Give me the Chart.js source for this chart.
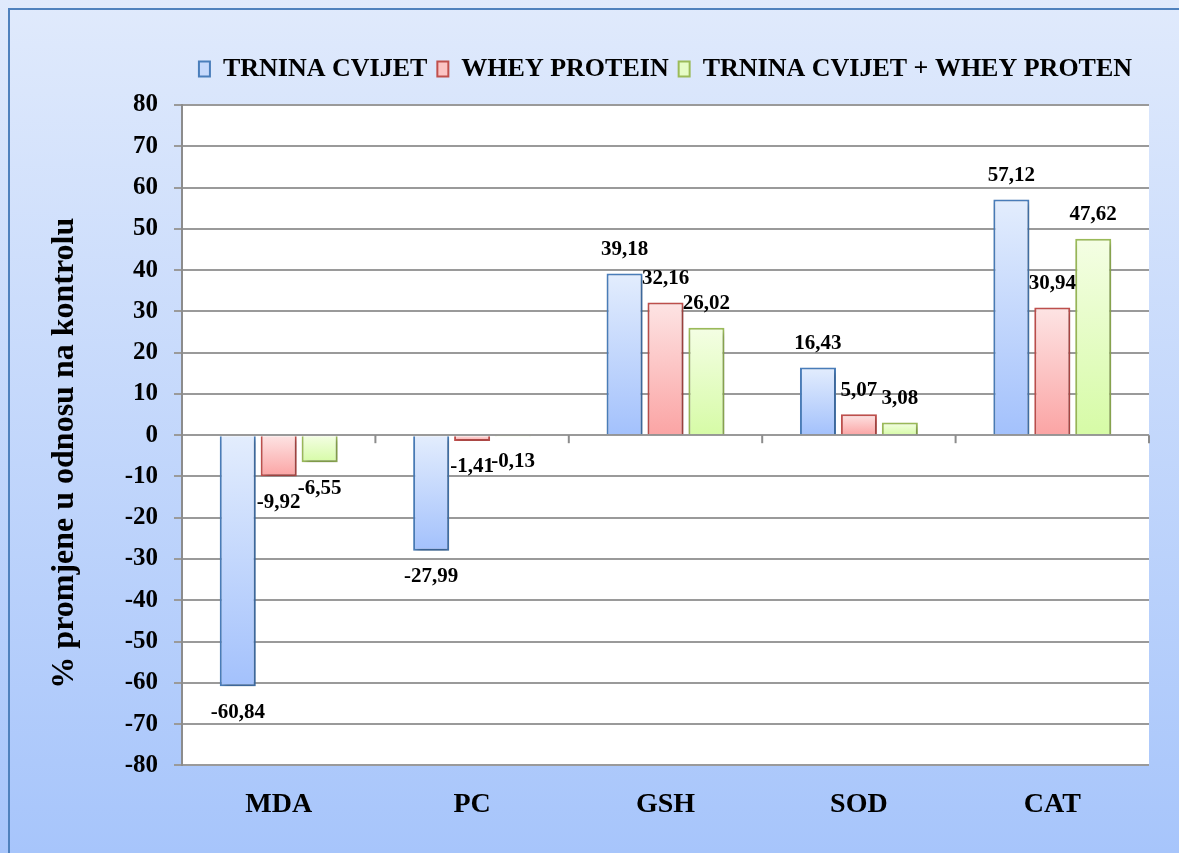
<!DOCTYPE html>
<html>
<head>
<meta charset="utf-8">
<script src="https://cdn.jsdelivr.net/npm/chart.js@4.4.1/dist/chart.umd.min.js"></script>
<style>
  html, body { margin: 0; padding: 0; background: #ffffff; }
  #wrap { width: 1179px; height: 853px; position: relative; }
</style>
</head>
<body>
<div id="wrap"><canvas id="chart"></canvas></div>
<script>
// categories and series
var categories = ['MDA', 'PC', 'GSH', 'SOD', 'CAT'];
var trninaCvijet = [-60.84, -27.99, 39.18, 16.43, 57.12];
var wheyProtein = [-9.92, -1.41, 32.16, 5.07, 30.94];
var trninaWhey = [-6.55, -0.13, 26.02, 3.08, 47.62];
var seriesNames = ['TRNINA CVIJET', 'WHEY PROTEIN', 'TRNINA CVIJET + WHEY PROTEN'];
var yTicks = [-80, -70, -60, -50, -40, -30, -20, -10, 0, 10, 20, 30, 40, 50, 60, 70, 80];
var yTitle = '% promjene u odnosu na kontrolu';

var FONT = "'Liberation Serif', 'Times New Roman', serif";

// per-bar vertical gradient (light at top, darker at bottom)
function barGradient(light, dark) {
    return function (ctx) {
        var chart = ctx.chart;
        var y = chart.scales.y;
        if (!y || ctx.raw === undefined) return dark;
        var p1 = y.getPixelForValue(ctx.raw);
        var p0 = y.getPixelForValue(0);
        var top = Math.min(p0, p1), bot = Math.max(p0, p1);
        if (bot - top < 1) bot = top + 1;
        var g = chart.ctx.createLinearGradient(0, top, 0, bot);
        g.addColorStop(0, light);
        g.addColorStop(1, dark);
        return g;
    };
}

var legendFill = ['#c6d9fc', '#fcc4c4', '#e6fcc6'];

// background, frame and white plot area
var backgroundPlugin = {
    id: 'bgPanel',
    beforeUpdate: function (chart) {
        // leave a gap between legend and plot
        var lg = chart.legend;
        if (lg && !lg._gapPatched) {
            var fit = lg.fit;
            lg.fit = function () {
                fit.call(this);
                this.height += 13;
            };
            lg._gapPatched = true;
        }
    },
    beforeDraw: function (chart) {
        var c = chart.ctx, a = chart.chartArea;
        c.save();
        var g = c.createLinearGradient(0, 0, 0, chart.height);
        g.addColorStop(0, '#e0eafc');
        g.addColorStop(1, '#a7c5fb');
        c.fillStyle = g;
        c.fillRect(0, 0, chart.width, chart.height);
        c.strokeStyle = '#4f81bd';
        c.lineWidth = 2;
        c.strokeRect(9, 9, chart.width + 20, chart.height + 20);
        c.fillStyle = '#ffffff';
        c.fillRect(a.left, a.top, a.right - a.left, a.bottom - a.top);
        c.restore();
    },
    afterDraw: function (chart) {
        var c = chart.ctx, a = chart.chartArea;
        c.save();
        c.translate(65, (a.top + a.bottom) / 2 + 18);
        c.rotate(-Math.PI / 2);
        c.fillStyle = '#000000';
        c.font = 'bold 32px ' + FONT;
        c.textAlign = 'center';
        c.textBaseline = 'middle';
        c.fillText(yTitle, 0, 0);
        c.restore();
    }
};

// soft shadow under the bars
var shadowPlugin = {
    id: 'barShadow',
    beforeDatasetsDraw: function (chart) {
        var c = chart.ctx;
        c.save();
        c.shadowColor = 'rgba(0,0,0,0.28)';
        c.shadowBlur = 5;
        c.shadowOffsetX = 2;
        c.shadowOffsetY = 3;
    },
    afterDatasetsDraw: function (chart) {
        chart.ctx.restore();
    }
};

// zero line tick marks between categories + value labels
var labelPlugin = {
    id: 'valueLabels',
    afterDatasetsDraw: function (chart) {
        var c = chart.ctx, xs = chart.scales.x, ys = chart.scales.y;
        var y0 = ys.getPixelForValue(0);
        c.save();
        c.strokeStyle = '#8c8c8c';
        c.lineWidth = 2;
        var n = categories.length;
        for (var i = 1; i <= n; i++) {
            var bx = i < n ? (xs.getPixelForValue(i - 1) + xs.getPixelForValue(i)) / 2 : chart.chartArea.right;
            c.beginPath();
            c.moveTo(bx, y0);
            c.lineTo(bx, y0 + 8);
            c.stroke();
        }
        c.fillStyle = '#000000';
        c.font = 'bold 21px ' + FONT;
        c.textAlign = 'center';
        c.textBaseline = 'middle';
        chart.data.datasets.forEach(function (ds, di) {
            var meta = chart.getDatasetMeta(di);
            meta.data.forEach(function (el, j) {
                var v = ds.data[j];
                var txt = v.toFixed(2).replace('.', ',');
                var ty = v >= 0 ? el.y - 24 : el.y + 26;
                c.fillText(txt, el.x, ty);
            });
        });
        c.restore();
    }
};

new Chart(document.getElementById('chart'), {
    type: 'bar',
    data: {
        labels: categories,
        datasets: [{
            label: seriesNames[0],
            data: trninaCvijet,
            backgroundColor: barGradient('#e3edfd', '#a3c1fc'),
            borderColor: '#4a7ebb',
            borderWidth: 2
        }, {
            label: seriesNames[1],
            data: wheyProtein,
            backgroundColor: barGradient('#fde4e4', '#fba4a4'),
            borderColor: '#c0504d',
            borderWidth: 2
        }, {
            label: seriesNames[2],
            data: trninaWhey,
            backgroundColor: barGradient('#f4fee4', '#d6fba6'),
            borderColor: '#9bbb59',
            borderWidth: 2
        }]
    },
    options: {
        responsive: true,
        maintainAspectRatio: false,
        animation: false,
        categoryPercentage: 0.635,
        barPercentage: 0.88,
        layout: { padding: { top: 46, right: 30, bottom: 8, left: 0 } },
        plugins: {
            tooltip: { enabled: false },
            legend: {
                position: 'top',
                fullSize: false,
                labels: {
                    color: '#000000',
                    font: { family: FONT, size: 26, weight: 'bold' },
                    boxWidth: 11,
                    boxHeight: 15,
                    padding: 10,
                    generateLabels: function (chart) {
                        return chart.data.datasets.map(function (ds, i) {
                            return {
                                text: ds.label,
                                fillStyle: legendFill[i],
                                strokeStyle: ds.borderColor,
                                lineWidth: 2,
                                datasetIndex: i,
                                hidden: false
                            };
                        });
                    }
                }
            }
        },
        scales: {
            x: {
                grid: { display: false, drawTicks: false },
                border: { display: false },
                ticks: {
                    color: '#000000',
                    padding: 23,
                    font: { family: FONT, size: 28, weight: 'bold' }
                }
            },
            y: {
                min: -80,
                max: 80,
                afterFit: function (scale) { scale.width = 182; },
                afterBuildTicks: function (scale) {
                    scale.ticks = yTicks.map(function (v) { return { value: v }; });
                },
                grid: {
                    color: '#9a9a9a',
                    lineWidth: 2,
                    tickLength: 8
                },
                border: { color: '#8c8c8c', width: 2 },
                ticks: {
                    color: '#000000',
                    padding: 16,
                    font: { family: FONT, size: 25, weight: 'bold' }
                }
            }
        }
    },
    plugins: [backgroundPlugin, shadowPlugin, labelPlugin]
});
</script>
</body>
</html>
